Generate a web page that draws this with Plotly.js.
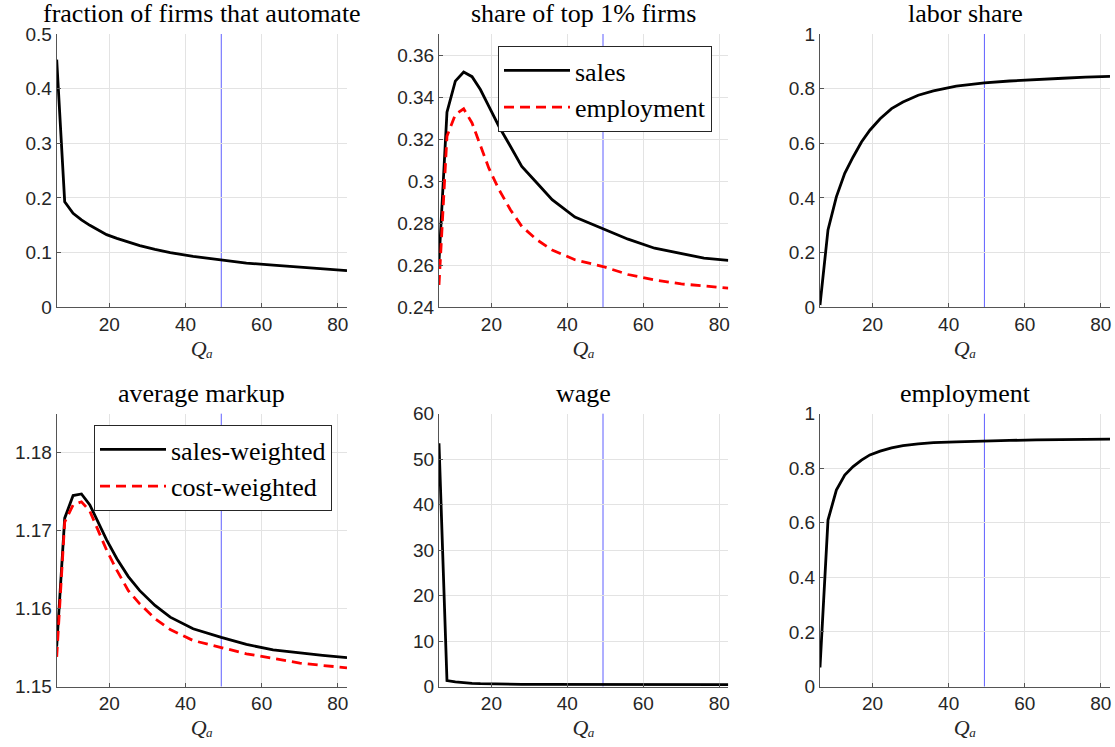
<!DOCTYPE html>
<html>
<head>
<meta charset="utf-8">
<script src="https://cdn.plot.ly/plotly-3.0.1.min.js"></script>
<style>html,body{margin:0;padding:0;background:#fff;}#chart{width:1115px;height:747px;}</style>
</head>
<body>
<div id="chart"></div>
<script>
// Q_a grid (x values)
const qa = [6.2, 8.3, 10.5, 12.7, 14.9, 17.1, 19.3, 22, 25, 28, 32, 36, 42, 49.4, 56, 63, 70, 76, 82.4];
// vertical reference line position
const qaRef = 49.4;

// panel 1: fraction of firms that automate
const fracAutomate = [0.453, 0.193, 0.172, 0.160, 0.150, 0.141, 0.133, 0.126, 0.119, 0.113, 0.106, 0.100, 0.093, 0.0865, 0.081, 0.077, 0.073, 0.070, 0.067];
// panel 2: share of top 1% firms
const top1Sales = [0.2618, 0.3328, 0.3476, 0.3519, 0.3497, 0.3436, 0.3357, 0.3260, 0.3166, 0.3070, 0.2991, 0.2912, 0.2829, 0.2773, 0.2724, 0.2681, 0.2654, 0.2634, 0.2623];
const top1Employment = [0.2506, 0.3214, 0.3317, 0.3344, 0.3277, 0.3166, 0.3063, 0.2960, 0.2864, 0.2785, 0.2721, 0.2673, 0.2626, 0.2594, 0.2556, 0.2530, 0.2511, 0.2502, 0.2491];
// panel 3: labor share
const laborShare = [0.0085, 0.283, 0.404, 0.490, 0.550, 0.605, 0.648, 0.690, 0.727, 0.751, 0.776, 0.792, 0.809, 0.821, 0.828, 0.834, 0.838, 0.842, 0.845];
// panel 4: average markup
const markupSales = [1.1551, 1.1716, 1.1745, 1.1747, 1.1733, 1.1711, 1.1688, 1.1664, 1.1641, 1.1623, 1.1604, 1.1589, 1.1574, 1.1563, 1.1554, 1.1547, 1.1543, 1.1540, 1.1537];
const markupCost = [1.1538, 1.1711, 1.1733, 1.1737, 1.1725, 1.1701, 1.1675, 1.1649, 1.1623, 1.1606, 1.1587, 1.1573, 1.1559, 1.1550, 1.1542, 1.1536, 1.1530, 1.1527, 1.1524];
// panel 5: wage
const wage = [53.5, 1.3, 1.0, 0.8, 0.7, 0.62, 0.57, 0.53, 0.5, 0.48, 0.47, 0.46, 0.45, 0.44, 0.43, 0.43, 0.42, 0.42, 0.42];
// panel 6: employment
const employment = [0.07, 0.61, 0.72, 0.775, 0.806, 0.830, 0.849, 0.863, 0.875, 0.883, 0.889, 0.894, 0.897, 0.901, 0.902, 0.904, 0.905, 0.906, 0.907];

const titles = ["fraction of firms that automate", "share of top 1% firms", "labor share", "average markup", "wage", "employment"];
const xTitle = '<i>Q\u2090</i>';
const xTicks = [20, 40, 60, 80];
const yRanges = [[0, 0.5], [0.24, 0.37], [0, 1], [1.15, 1.185], [0, 60], [0, 1]];
const yDticks = [0.1, 0.02, 0.2, 0.01, 10, 0.2];
const legendNames = ["sales", "employment", "sales-weighted", "cost-weighted"];

const W = 1115, H = 747;
const colDom = [[56.7, 347], [439, 728.3], [820, 1110]].map(d => [d[0] / W, d[1] / W]);
const rowDom = [[34, 307.3], [413.7, 686.5]].map(d => [1 - d[1] / H, 1 - d[0] / H]);

const black = {color: '#000000', width: 2.8};
const red = {color: '#ff0000', width: 2.8, dash: '10px,6px'};

const traces = [
  {x: qa, y: fracAutomate, xaxis: 'x', yaxis: 'y', mode: 'lines', line: black, showlegend: false},
  {x: qa, y: top1Sales, xaxis: 'x2', yaxis: 'y2', mode: 'lines', line: black, name: legendNames[0], legend: 'legend'},
  {x: qa, y: top1Employment, xaxis: 'x2', yaxis: 'y2', mode: 'lines', line: red, name: legendNames[1], legend: 'legend'},
  {x: qa, y: laborShare, xaxis: 'x3', yaxis: 'y3', mode: 'lines', line: black, showlegend: false},
  {x: qa, y: markupSales, xaxis: 'x4', yaxis: 'y4', mode: 'lines', line: black, name: legendNames[2], legend: 'legend2'},
  {x: qa, y: markupCost, xaxis: 'x4', yaxis: 'y4', mode: 'lines', line: red, name: legendNames[3], legend: 'legend2'},
  {x: qa, y: wage, xaxis: 'x5', yaxis: 'y5', mode: 'lines', line: black, showlegend: false},
  {x: qa, y: employment, xaxis: 'x6', yaxis: 'y6', mode: 'lines', line: black, showlegend: false}
];

const tickFont = {family: 'Liberation Sans, Arial, sans-serif', size: 19, color: '#262626'};
const serif = 'Liberation Serif, DejaVu Serif, serif';

const layout = {
  width: W, height: H,
  margin: {l: 0, r: 0, t: 0, b: 0},
  paper_bgcolor: '#ffffff', plot_bgcolor: '#ffffff',
  showlegend: true,
  legend: {x: 498 / W, y: 1 - 46 / H, xanchor: 'left', yanchor: 'top', bgcolor: '#ffffff',
           bordercolor: '#262626', borderwidth: 1, font: {family: serif, size: 26, color: '#000'},
           itemwidth: 66, tracegroupgap: 0},
  legend2: {x: 94 / W, y: 1 - 425 / H, xanchor: 'left', yanchor: 'top', bgcolor: '#ffffff',
           bordercolor: '#262626', borderwidth: 1, font: {family: serif, size: 26, color: '#000'},
           itemwidth: 66, tracegroupgap: 0},
  annotations: [], shapes: []
};

for (let i = 0; i < 6; i++) {
  const r = Math.floor(i / 3), c = i % 3;
  const sfx = i === 0 ? '' : String(i + 1);
  layout['xaxis' + sfx] = {
    domain: colDom[c], anchor: 'y' + sfx, range: [qa[0], qa[qa.length - 1]],
    tickmode: 'array', tickvals: xTicks, showgrid: true, gridcolor: '#e3e3e3', gridwidth: 1,
    showline: true, linecolor: '#555555', linewidth: 1, ticks: 'inside', ticklen: 4, tickcolor: '#555555',
    zeroline: false, tickfont: tickFont, automargin: false, fixedrange: true,
    title: {text: xTitle, font: {family: serif, size: 22, color: '#262626'}, standoff: 6}
  };
  layout['yaxis' + sfx] = {
    domain: rowDom[r], anchor: 'x' + sfx, range: yRanges[i], dtick: yDticks[i], tick0: yRanges[i][0],
    showgrid: true, gridcolor: '#e3e3e3', gridwidth: 1,
    showline: true, linecolor: '#555555', linewidth: 1, ticks: 'inside', ticklen: 4, tickcolor: '#555555',
    zeroline: false, tickfont: tickFont, automargin: false, fixedrange: true
  };
  const xc = (colDom[c][0] + colDom[c][1]) / 2;
  layout.annotations.push({
    text: titles[i], xref: 'paper', yref: 'paper', x: xc, y: rowDom[r][1],
    xanchor: 'center', yanchor: 'bottom', yshift: 4, showarrow: false,
    font: {family: serif, size: 26, color: '#000'}
  });
  layout.shapes.push({
    type: 'line', xref: 'x' + sfx, yref: 'y' + sfx + ' domain', x0: qaRef, x1: qaRef, y0: 0, y1: 1,
    line: {color: 'rgba(40,40,255,0.75)', width: 1}, layer: 'below'
  });
}

Plotly.newPlot('chart', traces, layout, {staticPlot: true, displayModeBar: false});
</script>
</body>
</html>
